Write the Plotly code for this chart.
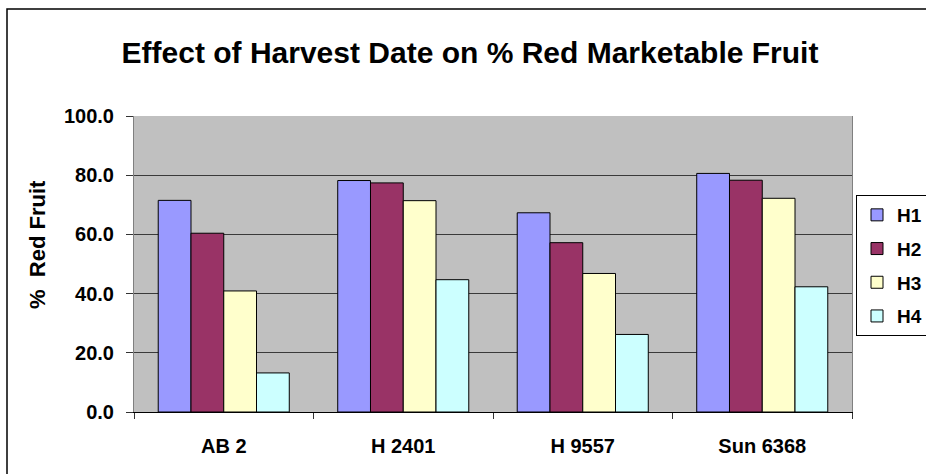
import plotly.graph_objects as go

categories = ["AB 2", "H 2401", "H 9557", "Sun 6368"]
series_names = ["H1", "H2", "H3", "H4"]
h1 = [71.5, 78.2, 67.3, 80.6]
h2 = [60.4, 77.4, 57.2, 78.3]
h3 = [40.9, 71.4, 46.8, 72.2]
h4 = [13.2, 44.7, 26.2, 42.3]
colors = ["#9999FF", "#993366", "#FFFFCC", "#CCFFFF"]
y_ticks = [0, 20, 40, 60, 80, 100]
y_tick_labels = ["0.0", "20.0", "40.0", "60.0", "80.0", "100.0"]

FONT = "Liberation Sans, Arial, sans-serif"
W, H = 926, 474
L, R, T, B = 134, 74, 116, 62
pw, ph = W - L - R, H - T - B

def px_x(p):
    return (p - L) / pw

def px_y(p):
    return (H - B - p) / ph

fig = go.Figure()
for i, (name, vals) in enumerate(zip(series_names, [h1, h2, h3, h4])):
    fig.add_trace(go.Bar(
        x=categories, y=vals, name=name, legendgroup=name,
        marker=dict(color=colors[i], line=dict(color="#000000", width=1)),
    ))

fig.update_layout(
    width=W, height=H,
    margin=dict(l=L, r=R, t=T, b=B, autoexpand=False),
    paper_bgcolor="white", plot_bgcolor="#C0C0C0",
    barmode="group", bargap=0.27, bargroupgap=0,
    title=dict(text="Effect of Harvest Date on % Red Marketable Fruit",
               x=470 / W, xanchor="center", y=1 - 52 / H, yanchor="middle",
               font=dict(family=FONT, size=30, color="black", weight="bold")),
    font=dict(family=FONT, color="black"),
    legend=dict(x=px_x(856), y=px_y(195), xanchor="left", yanchor="top",
                bordercolor="black", borderwidth=1, bgcolor="white",
                font=dict(family=FONT, size=19, color="black", weight="bold"),
                tracegroupgap=6, itemwidth=30),
    showlegend=True,
)
fig.update_xaxes(
    type="category", showline=True, linecolor="black", linewidth=1, mirror=False,
    ticks="outside", tickson="boundaries", ticklen=6, tickcolor="#333",
    ticklabelstandoff=16,
    tickfont=dict(family=FONT, size=20, color="black", weight="bold"),
    showgrid=False,
)
fig.update_yaxes(
    range=[0, 100], tickvals=y_ticks, ticktext=y_tick_labels,
    showline=True, linecolor="#808080", linewidth=1, mirror=True,
    ticks="outside", ticklen=7, tickcolor="#333", ticklabelstandoff=8,
    tickfont=dict(family=FONT, size=20, color="black", weight="bold"),
    showgrid=True, gridcolor="#3a3a3a", gridwidth=1, zeroline=False,
)
fig.add_annotation(text="%  Red Fruit", textangle=-90, xref="paper", yref="paper",
                   x=px_x(37), y=px_y(245), xanchor="center", yanchor="middle",
                   showarrow=False,
                   font=dict(family=FONT, size=22, color="black", weight="bold"))
# outer chart border
fig.add_shape(type="rect", xref="paper", yref="paper",
              x0=px_x(7), y0=px_y(9), x1=px_x(W + 20), y1=px_y(H + 20),
              line=dict(color="black", width=1.5), fillcolor="rgba(0,0,0,0)", layer="below")

fig.write_html("out.html", config={"displayModeBar": False},
               post_script="document.body.style.margin='0';document.body.style.padding='0';")
